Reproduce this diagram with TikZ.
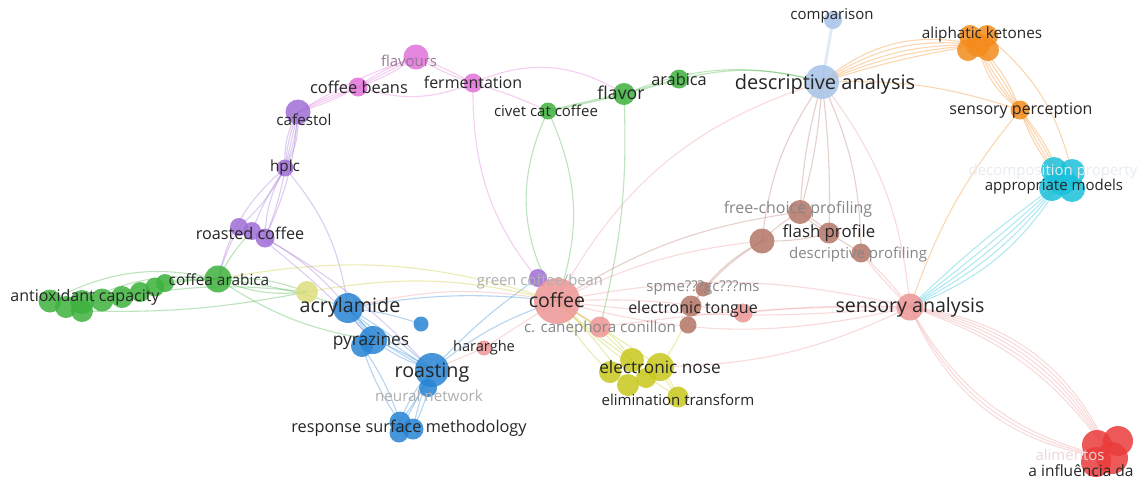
\documentclass[tikz,border=0pt]{standalone}
\usepackage{fontspec}
\setmainfont{Open Sans}
\usetikzlibrary{backgrounds}
\definecolor{gC}{RGB}{62,178,62}
\definecolor{puC}{RGB}{160,110,215}
\definecolor{pkC}{RGB}{225,115,218}
\definecolor{blC}{RGB}{40,132,212}
\definecolor{lbC}{RGB}{168,196,232}
\definecolor{orC}{RGB}{243,140,28}
\definecolor{cyC}{RGB}{28,192,218}
\definecolor{brC}{RGB}{180,118,104}
\definecolor{rdC}{RGB}{238,150,150}
\definecolor{rdD}{RGB}{235,60,60}
\definecolor{ywC}{RGB}{200,200,30}
\definecolor{ywL}{RGB}{222,222,125}
\definecolor{txt}{RGB}{38,38,38}
\definecolor{gtx}{RGB}{135,135,135}
\definecolor{ltx}{RGB}{175,175,175}
\tikzset{
  dot/.style={circle, fill=#1, fill opacity=0.85, inner sep=0pt},
  lab/.style={inner sep=0pt, text=txt, font=\fontsize{#1}{#1}\selectfont},
  glab/.style={inner sep=0pt, text=gtx, font=\fontsize{#1}{#1}\selectfont},
  flab/.style={inner sep=0pt, text=ltx, font=\fontsize{#1}{#1}\selectfont},
  lk/.style={draw=#1, draw opacity=0.34, line width=1.1pt},
}
\begin{document}
\begin{tikzpicture}[x=1pt,y=-1pt]
\useasboundingbox (0,0) rectangle (1137,480);

% ---------- green cluster ----------
\node[dot=gC, minimum size=23pt] (ac1) at (50,301) {};
\node[dot=gC, minimum size=22pt] (ac2) at (66,307) {};
\node[dot=gC, minimum size=24pt] (ac3) at (82,302) {};
\node[dot=gC, minimum size=22pt] (ac4) at (82,311) {};
\node[dot=gC, minimum size=23pt] (ac5) at (102,300) {};
\node[dot=gC, minimum size=22pt] (ac6) at (122,297) {};
\node[dot=gC, minimum size=20pt] (ac7) at (140,292) {};
\node[dot=gC, minimum size=19pt] (ac8) at (155,287) {};
\node[dot=gC, minimum size=18pt] (ac9) at (165,283) {};
\node[dot=gC, minimum size=27pt] (ca) at (218,279) {};
\node[dot=ywL, minimum size=22pt] (yl) at (307,292) {};
\node[dot=gC, minimum size=17pt] (cc) at (548,111) {};
\node[dot=gC, minimum size=22pt] (fl) at (624,94) {};
\node[dot=gC, minimum size=19pt] (ar) at (679,79) {};

% ---------- purple cluster ----------
\node[dot=puC, minimum size=25pt] (cf) at (298,112) {};
\node[dot=puC, minimum size=17pt] (hp) at (285,168) {};
\node[dot=puC, minimum size=18pt] (rc1) at (239,227) {};
\node[dot=puC, minimum size=18pt] (rc2) at (252,231) {};
\node[dot=puC, minimum size=19pt] (rc3) at (265,238) {};
\node[dot=puC, minimum size=18pt] (gb) at (538,278) {};

% ---------- pink cluster ----------
\node[dot=pkC, minimum size=25pt] (fv) at (416,57) {};
\node[dot=pkC, minimum size=19pt] (cb) at (358,87) {};
\node[dot=pkC, minimum size=19pt] (fe) at (473,83) {};

% ---------- blue cluster ----------
\node[dot=blC, minimum size=30pt] (acr) at (348,308) {};
\node[dot=blC, minimum size=22pt] (py2) at (362,346) {};
\node[dot=blC, minimum size=28pt] (py) at (373,340) {};
\node[dot=blC, minimum size=15pt] (sb) at (421,324) {};
\node[dot=blC, minimum size=34pt] (ro) at (432,370) {};
\node[dot=blC, minimum size=18pt] (nn) at (428,388) {};
\node[dot=blC, minimum size=21pt] (rs1) at (400,422) {};
\node[dot=blC, minimum size=21pt] (rs2) at (413,429) {};
\node[dot=blC, minimum size=19pt] (rs3) at (399,433) {};

% ---------- descriptive analysis ----------
\node[dot=lbC, minimum size=34pt] (da) at (822,82) {};
\node[dot=lbC, minimum size=18pt] (cm) at (833,20) {};

% ---------- orange / cyan ----------
\node[dot=orC, minimum size=22pt] (ak1) at (970,36) {};
\node[dot=orC, minimum size=22pt] (ak2) at (987,36) {};
\node[dot=orC, minimum size=22pt] (ak3) at (968,50) {};
\node[dot=orC, minimum size=22pt] (ak4) at (988,50) {};
\node[dot=orC, minimum size=24pt] (ak) at (978,45) {};
\node[dot=orC, minimum size=19pt] (sp) at (1020,110) {};
\node[dot=cyC, minimum size=26pt] (am1) at (1054,170) {};
\node[dot=cyC, minimum size=26pt] (am2) at (1072,172) {};
\node[dot=cyC, minimum size=26pt] (am3) at (1052,188) {};
\node[dot=cyC, minimum size=26pt] (am4) at (1072,189) {};
\node[dot=cyC, minimum size=28pt] (am) at (1062,181) {};

% ---------- brown cluster ----------
\node[dot=brC, minimum size=24pt] (fc) at (800,212) {};
\node[dot=brC, minimum size=21pt] (fp) at (829,233) {};
\node[dot=brC, minimum size=19pt] (dp) at (861,253) {};
\node[dot=brC, minimum size=25pt] (bx) at (762,241) {};
\node[dot=brC, minimum size=15pt] (sm) at (703,289) {};
\node[dot=brC, minimum size=21pt] (et) at (691,306) {};
\node[dot=brC, minimum size=17pt] (et2) at (688,325) {};
\node[dot=rdC, minimum size=19pt] (etr) at (743,313) {};

% ---------- red cluster ----------
\node[dot=rdC, minimum size=46pt] (co) at (557,301) {};
\node[dot=rdC, minimum size=21pt] (cn) at (600,327) {};
\node[dot=rdC, minimum size=15pt] (ha) at (484,348) {};
\node[dot=rdC, minimum size=27pt] (sa) at (910,307) {};
\node[dot=rdD, minimum size=30pt] (ai1) at (1097,445) {};
\node[dot=rdD, minimum size=30pt] (ai2) at (1118,441) {};
\node[dot=rdD, minimum size=30pt] (ai3) at (1096,462) {};
\node[dot=rdD, minimum size=32pt] (ai) at (1112,458) {};

% ---------- yellow cluster ----------
\node[dot=ywC, minimum size=22pt] (en1) at (610,372) {};
\node[dot=ywC, minimum size=24pt] (en2) at (632,360) {};
\node[dot=ywC, minimum size=22pt] (en3) at (628,385) {};
\node[dot=ywC, minimum size=20pt] (en5) at (646,378) {};
\node[dot=ywC, minimum size=28pt] (en4) at (660,367) {};
\node[dot=ywC, minimum size=21pt] (el) at (678,397) {};

% ---------- links ----------
\begin{scope}[on background layer]
\fill[white] (0,0) rectangle (1137,480);
% green
\foreach \n/\b in {ac1/20,ac3/16,ac5/12,ac7/8,ac9/4} \draw[lk=gC] (\n.center) to[bend left=\b] (ca.center);
\draw[lk=gC] (ac4.center) to[bend right=6] (yl.center);
\draw[lk=gC] (ac6.center) to[bend left=8] (yl.center);
\draw[lk=gC] (ca.center) to[bend right=12] (py.center);
\draw[lk=gC] (ca.center) to[bend left=12] (yl.center);
\draw[lk=gC] (ca.center) to[bend right=14] (yl.center);
\draw[lk=gC] (ca.center) to[bend left=6] (acr.center);
\draw[lk=gC] (ca.center) to[bend left=8] (rc2.center);
\draw[lk=gC, line width=2.5pt] (cc.center) -- (fl.center);
\draw[lk=gC, line width=2pt] (fl.center) -- (ar.center);
\draw[lk=gC] (ar.center) to[bend left=14] (da.center);
\draw[lk=gC] (fl.center) to[bend left=18] (da.center);
\draw[lk=gC] (cc.center) to[bend right=28] (co.center);
\draw[lk=gC] (cc.center) to[bend left=22] (co.center);
\draw[lk=gC] (fl.center) to[bend left=8] (cn.center);
% pink
\foreach \b in {-8,0,8} \draw[lk=pkC] (cb.center) to[bend left=\b] (fv.center);
\foreach \b in {-6,4} \draw[lk=pkC] (fv.center) to[bend left=\b] (fe.center);
\draw[lk=pkC] (cb.center) to[bend right=20] (fe.center);
\foreach \b in {-6,0,6} \draw[lk=pkC] (cb.center) to[bend left=\b] (cf.center);
\draw[lk=pkC] (fv.center) to[bend right=6] (cf.center);
\draw[lk=pkC] (fe.center) to[bend left=4] (cc.center);
\draw[lk=pkC] (fe.center) to[bend left=28] (fl.center);
\draw[lk=pkC] (fe.center) to[bend right=22] (co.center);
% purple
\foreach \b in {-16,-8,0,8,16} \draw[lk=puC] (cf.center) to[bend left=\b] (hp.center);
\foreach \n/\b in {rc1/10,rc2/-6,rc3/-14,rc3/6} \draw[lk=puC] (hp.center) to[bend left=\b] (\n.center);
\draw[lk=puC] (cf.center) to[bend left=10] (rc3.center);
\draw[lk=puC] (hp.center) to[bend right=18] (ca.center);
\draw[lk=puC] (hp.center) to[bend left=16] (acr.center);
\draw[lk=puC] (rc3.center) to[bend left=10] (acr.center);
\draw[lk=puC] (rc2.center) to[bend left=4] (py.center);
\draw[lk=puC] (rc3.center) to[bend left=8] (ro.center);
\draw[lk=puC] (rc1.center) to[bend right=6] (ca.center);
% blue
\foreach \b in {-10,0,10} \draw[lk=blC] (acr.center) to[bend left=\b] (py.center);
\foreach \b in {-12,-4,6} \draw[lk=blC] (acr.center) to[bend left=\b] (ro.center);
\foreach \b in {-8,6} \draw[lk=blC] (py.center) to[bend left=\b] (ro.center);
\foreach \n/\b in {rs1/-10,rs1/6,rs2/-6,rs2/8,rs3/0} \draw[lk=blC] (ro.center) to[bend left=\b] (\n.center);
\foreach \b in {-8,8} \draw[lk=blC] (py2.center) to[bend left=\b] (rs1.center);
\draw[lk=blC] (acr.center) to[bend left=6] (sb.center);
\draw[lk=blC] (ro.center) to[bend left=10] (co.center);
\draw[lk=blC] (acr.center) to[bend left=8] (co.center);
\draw[lk=blC] (ro.center) to[bend left=6] (gb.center);
% yellow
\draw[lk=ywC] (yl.center) to[bend left=12] (co.center);
\draw[lk=ywC] (ca.center) to[bend left=14] (co.center);
\foreach \n/\b in {en1/-10,en2/-4,en3/6,en4/2,en5/10,el/-6} \draw[lk=ywC] (co.center) to[bend left=\b] (\n.center);
\foreach \b in {-8,8} \draw[lk=ywC] (en4.center) to[bend left=\b] (el.center);
\draw[lk=ywC] (en4.center) to[bend right=8] (et.center);
\draw[lk=ywC] (cn.center) to[bend left=10] (en2.center);
% red
\draw[lk=rdC] (co.center) to[bend left=12] (sa.center);
\draw[lk=rdC] (co.center) to[bend right=6] (sa.center);
\draw[lk=rdC] (co.center) to[bend right=14] (sa.center);
\draw[lk=rdC] (co.center) -- (cn.center);
\draw[lk=rdC] (co.center) -- (ha.center);
\draw[lk=rdC] (co.center) to[bend left=6] (etr.center);
\draw[lk=rdC] (co.center) to[bend left=10] (bx.center);
\draw[lk=rdC] (co.center) to[bend left=22] (da.center);
\draw[lk=rdC] (co.center) to[bend right=12] (acr.center);
\draw[lk=rdC] (ha.center) -- (ro.center);
\foreach \b in {-30,-27,-24,18,21,24,27,30} \draw[lk=rdC] (sa.center) to[bend left=\b] (ai.center);
\foreach \b in {-4,4} \draw[lk=rdC] (dp.center) to[bend left=\b] (sa.center);
\draw[lk=rdC] (sa.center) to[bend right=16] (da.center);
\draw[lk=rdC] (sa.center) to[bend left=12] (en4.center);
\draw[lk=rdC] (sa.center) to[bend right=4] (cn.center);
\draw[lk=rdC] (etr.center) to[bend left=4] (sa.center);
% orange
\foreach \b in {4,9,14,20,26} \draw[lk=orC] (da.center) to[bend left=\b] (ak.center);
\foreach \b in {-20,-12,-5,4,12} \draw[lk=orC] (ak.center) to[bend left=\b] (sp.center);
\foreach \b in {-10,-4,3,9} \draw[lk=orC] (sp.center) to[bend left=\b] (am.center);
\draw[lk=orC] (da.center) to[bend left=10] (sp.center);
\draw[lk=orC] (ak2.center) to[bend left=18] (am2.center);
\draw[lk=orC] (sp.center) to[bend right=10] (sa.center);
% cyan
\foreach \b in {-18,-12,-7,-2,4} \draw[lk=cyC] (am.center) to[bend right=\b] (sa.center);
% descriptive analysis
\draw[lk=lbC, line width=3pt] (da.center) -- (cm.center);
\foreach \b in {-6,6} \draw[lk=brC] (da.center) to[bend left=\b] (fc.center);
\draw[lk=brC] (da.center) to[bend left=4] (fp.center);
\draw[lk=brC] (da.center) to[bend left=12] (dp.center);
\draw[lk=brC] (da.center) to[bend right=14] (bx.center);
% brown
\foreach \b in {-8,8} \draw[lk=brC] (fc.center) to[bend left=\b] (fp.center);
\draw[lk=brC] (fp.center) -- (dp.center);
\draw[lk=brC] (bx.center) to[bend left=8] (fc.center);
\draw[lk=brC] (bx.center) to[bend right=8] (fp.center);
\draw[lk=brC] (bx.center) to[bend right=10] (et.center);
\draw[lk=brC] (sm.center) -- (et.center);
\draw[lk=brC] (sm.center) to[bend left=10] (bx.center);
\draw[lk=brC] (et.center) -- (et2.center);
\draw[lk=brC] (fc.center) to[bend right=12] (co.center);
\end{scope}

% ---------- labels ----------
\node[lab=15] (l-cm) at (832,16) {comparison};
\node[lab=15.3] (l-ak) at (982,35) {aliphatic ketones};
\node[lab=20] (l-da) at (825,84) {descriptive analysis};
\node[lab=16] (l-sp) at (1021,111) {sensory perception};
\node[text={rgb,255:red,232;green,236;blue,240}, inner sep=0pt, font=\fontsize{15}{15}\selectfont] (l-dc) at (1053,172) {decomposition property};
\node[lab=15] (l-am) at (1054,187) {appropriate models};
\node[glab=16] (l-fc) at (798,209) {free-choice profiling};
\node[lab=16.8] (l-fp) at (829,233) {flash profile};
\node[glab=15] (l-dp) at (858,255) {descriptive profiling};
\node[glab=14.9] (l-sm) at (703,288) {spme???gc???ms};
\node[lab=16] (l-et) at (693,309) {electronic tongue};
\node[lab=19.6] (l-sa) at (910,307) {sensory analysis};
\node[lab=19.5] (l-co) at (557,300) {coffee};
\node[flab=14.8] (l-gb) at (540,282) {green coffee/bean};
\node[glab=15.2] (l-cn) at (600,329) {c. canephora conillon};
\node[lab=14.6] (l-ha) at (484,348) {hararghe};
\node[lab=17.2] (l-en) at (660,367) {electronic nose};
\node[lab=15] (l-el) at (678,400) {elimination transform};
\node[lab=19.7] (l-ro) at (432,373) {roasting};
\node[flab=15.2] (l-nn) at (429,396) {neural network};
\node[lab=16.3] (l-rs) at (409,428) {response surface methodology};
\node[lab=19.7] (l-acr) at (350,307) {acrylamide};
\node[lab=17.3] (l-py) at (371,341) {pyrazines};
\node[lab=16] (l-ac) at (85,297) {antioxidant capacity};
\node[lab=15.4] (l-ca) at (219,280) {coffea arabica};
\node[lab=16.2] (l-rc) at (250,233) {roasted coffee};
\node[lab=15.3] (l-hp) at (285,168) {hplc};
\node[lab=15.2] (l-cf) at (304,120) {cafestol};
\node[lab=16.4] (l-cb) at (359,87) {coffee beans};
\node[text={rgb,255:red,150;green,120;blue,150}, inner sep=0pt, font=\fontsize{14.9}{14.9}\selectfont] (l-fv) at (409,61) {flavours};
\node[lab=16] (l-fe) at (473,82) {fermentation};
\node[lab=15] (l-cc) at (546,111) {civet cat coffee};
\node[lab=17.7] (l-fl) at (621,93) {flavor};
\node[lab=16.3] (l-ar) at (679,79) {arabica};
\node[text={rgb,255:red,240;green,215;blue,215}, inner sep=0pt, font=\fontsize{15}{15}\selectfont] (l-al) at (1070,455) {alimentos};
\node[lab=15.5] (l-ai) at (1081,471) {a influência da};
\end{tikzpicture}
\end{document}
